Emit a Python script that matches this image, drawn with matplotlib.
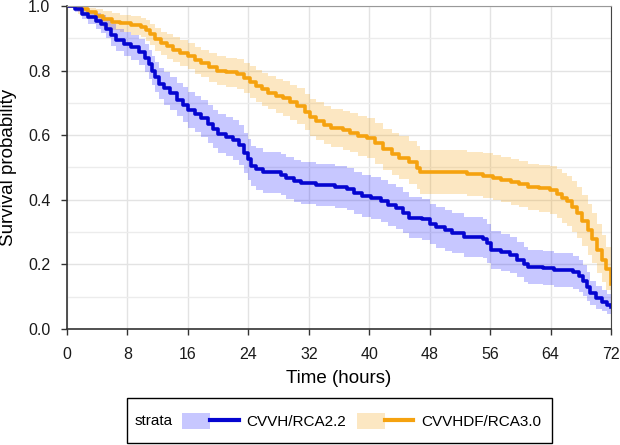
import matplotlib.pyplot as plt
from matplotlib.lines import Line2D
from matplotlib.patches import Patch, Rectangle
from matplotlib.legend_handler import HandlerTuple
from matplotlib.ticker import MultipleLocator

plt.rcParams['font.family'] = ['Liberation Sans', 'DejaVu Sans']

# Kaplan-Meier estimates (time in hours)
cvvh_time = [0, 1, 2, 2.8, 3.8, 4.5, 5.2, 5.8, 6.5, 7.5, 8.5, 9.5, 10.3, 10.8,
             11.2, 11.6, 12.2, 12.8, 13.6, 14.5, 15.3, 16.0, 17.0, 17.8, 18.6,
             19.3, 20.0, 21.0, 22.0, 22.8, 23.4, 23.9, 24.4, 25.0, 26.0, 28.3,
             29.0, 30.0, 31.0, 33.0, 35.5, 37.0, 38.0, 39.0, 40.3, 41.5, 42.5,
             43.5, 44.5, 45.2, 47.0, 48.0, 48.8, 50.0, 51.0, 52.5, 55.0, 55.6,
             56.1, 57.5, 58.6, 59.5, 60.5, 61.0, 63.0, 64.5, 67.0, 67.8, 68.3,
             68.8, 69.2, 70.0, 70.8, 71.5, 72.0]
cvvh_surv = [1.0, 0.99, 0.975, 0.965, 0.955, 0.945, 0.93, 0.91, 0.895, 0.882,
             0.872, 0.858, 0.84, 0.82, 0.80, 0.78, 0.76, 0.745, 0.73, 0.71,
             0.695, 0.678, 0.665, 0.652, 0.635, 0.618, 0.605, 0.595, 0.585,
             0.57, 0.545, 0.525, 0.505, 0.495, 0.485, 0.478, 0.468, 0.458,
             0.452, 0.446, 0.44, 0.432, 0.42, 0.412, 0.405, 0.395, 0.385,
             0.375, 0.36, 0.345, 0.34, 0.325, 0.315, 0.305, 0.298, 0.285,
             0.28, 0.265, 0.245, 0.238, 0.228, 0.215, 0.2, 0.192, 0.189,
             0.182, 0.176, 0.165, 0.15, 0.13, 0.11, 0.095, 0.085, 0.075, 0.068]
cvvh_lower = [1.0, 0.98, 0.96, 0.945, 0.93, 0.917, 0.90, 0.877, 0.86, 0.845,
              0.833, 0.817, 0.797, 0.775, 0.754, 0.733, 0.712, 0.695, 0.679,
              0.658, 0.642, 0.623, 0.609, 0.595, 0.577, 0.559, 0.545, 0.535,
              0.524, 0.508, 0.483, 0.462, 0.442, 0.431, 0.421, 0.414, 0.403,
              0.393, 0.387, 0.381, 0.375, 0.367, 0.355, 0.347, 0.34, 0.33,
              0.32, 0.31, 0.296, 0.281, 0.276, 0.262, 0.252, 0.243, 0.236,
              0.224, 0.219, 0.205, 0.187, 0.181, 0.172, 0.16, 0.146, 0.139,
              0.136, 0.13, 0.125, 0.115, 0.102, 0.088, 0.075, 0.063, 0.055,
              0.047, 0.042]
cvvh_upper = [1.0, 1.0, 0.99, 0.985, 0.978, 0.972, 0.96, 0.943, 0.93, 0.919,
              0.911, 0.899, 0.883, 0.865, 0.846, 0.827, 0.808, 0.795, 0.781,
              0.762, 0.748, 0.733, 0.721, 0.709, 0.693, 0.677, 0.665, 0.655,
              0.646, 0.632, 0.607, 0.588, 0.568, 0.559, 0.549, 0.542, 0.533,
              0.523, 0.517, 0.511, 0.505, 0.497, 0.485, 0.477, 0.47, 0.46,
              0.45, 0.44, 0.424, 0.409, 0.404, 0.388, 0.378, 0.367, 0.36,
              0.346, 0.341, 0.325, 0.303, 0.295, 0.284, 0.27, 0.254, 0.245,
              0.242, 0.234, 0.227, 0.215, 0.198, 0.175, 0.15, 0.133, 0.12,
              0.108, 0.10]

cvvhdf_time = [0, 1.5, 2.8, 3.8, 4.8, 6.0, 7.0, 8.5, 9.8, 10.4, 11.0, 11.7,
               12.4, 13.2, 14.0, 15.0, 16.0, 17.0, 17.8, 18.8, 19.8, 21.0,
               22.5, 23.4, 24.2, 25.0, 25.8, 26.6, 27.6, 28.6, 29.5, 30.5,
               31.5, 32.2, 33.0, 34.0, 35.0, 36.5, 37.5, 38.5, 39.7, 40.8,
               41.8, 43.0, 44.0, 45.2, 46.3, 46.7, 53.0, 55.0, 56.4, 57.5,
               58.8, 59.8, 61.0, 62.5, 63.9, 64.8, 65.5, 66.2, 66.9, 67.5,
               68.2, 68.9, 69.5, 70.2, 70.8, 71.4, 72.0]
cvvhdf_surv = [1.0, 0.99, 0.98, 0.97, 0.96, 0.952, 0.946, 0.94, 0.935, 0.925,
               0.912, 0.898, 0.885, 0.875, 0.865, 0.855, 0.845, 0.832, 0.822,
               0.81, 0.8, 0.795, 0.79, 0.778, 0.765, 0.752, 0.742, 0.732,
               0.722, 0.714, 0.702, 0.69, 0.672, 0.656, 0.645, 0.632, 0.622,
               0.615, 0.608, 0.598, 0.59, 0.575, 0.556, 0.542, 0.53, 0.516,
               0.5, 0.486, 0.48, 0.475, 0.468, 0.462, 0.455, 0.448, 0.44,
               0.435, 0.43, 0.418, 0.405, 0.395, 0.378, 0.36, 0.335, 0.305,
               0.28, 0.245, 0.215, 0.185, 0.14]
cvvhdf_lower = [1.0, 0.975, 0.96, 0.948, 0.935, 0.925, 0.918, 0.91, 0.905,
                0.893, 0.878, 0.862, 0.848, 0.837, 0.826, 0.815, 0.804, 0.79,
                0.779, 0.766, 0.755, 0.749, 0.744, 0.73, 0.716, 0.702, 0.691,
                0.68, 0.669, 0.66, 0.647, 0.634, 0.615, 0.598, 0.586, 0.572,
                0.562, 0.554, 0.547, 0.536, 0.528, 0.512, 0.492, 0.477, 0.464,
                0.449, 0.432, 0.418, 0.412, 0.406, 0.398, 0.392, 0.384, 0.377,
                0.368, 0.362, 0.356, 0.343, 0.329, 0.318, 0.3, 0.282, 0.258,
                0.228, 0.205, 0.172, 0.145, 0.12, 0.085]
cvvhdf_upper = [1.0, 1.0, 0.995, 0.99, 0.983, 0.977, 0.972, 0.968, 0.964,
                0.956, 0.945, 0.933, 0.921, 0.912, 0.903, 0.894, 0.885, 0.873,
                0.864, 0.853, 0.844, 0.84, 0.835, 0.825, 0.813, 0.801, 0.792,
                0.783, 0.774, 0.767, 0.756, 0.745, 0.728, 0.713, 0.703, 0.691,
                0.682, 0.675, 0.669, 0.659, 0.652, 0.638, 0.62, 0.607, 0.596,
                0.583, 0.568, 0.554, 0.548, 0.544, 0.538, 0.532, 0.526, 0.519,
                0.512, 0.508, 0.504, 0.494, 0.482, 0.473, 0.457, 0.44, 0.415,
                0.386, 0.36, 0.325, 0.29, 0.255, 0.2]

strata = ['CVVH/RCA2.2', 'CVVHDF/RCA3.0']
blue = '#0505d0'
orange = '#f5a20f'

fig = plt.figure(figsize=(6.2, 4.45), dpi=100)
ax = fig.add_axes([67 / 620, 1 - 329 / 445, 544 / 620, 323 / 445])

# confidence bands
ax.fill_between(cvvhdf_time, cvvhdf_lower, cvvhdf_upper, step='post',
                color=orange, alpha=0.25, linewidth=0)
ax.fill_between(cvvh_time, cvvh_lower, cvvh_upper, step='post',
                color='#0000ff', alpha=0.22, linewidth=0)

# survival curves
ax.step(cvvhdf_time, cvvhdf_surv, where='post', color=orange, lw=2.6)
ax.step(cvvh_time, cvvh_surv, where='post', color=blue, lw=2.6)

ax.set_xlim(0, 72)
ax.set_ylim(0, 1)
ax.xaxis.set_major_locator(MultipleLocator(8))
ax.yaxis.set_major_locator(MultipleLocator(0.2))
ax.yaxis.set_minor_locator(MultipleLocator(0.1))
ax.yaxis.set_major_formatter(lambda v, p: f'{v:.1f}')
ax.grid(True, which='major', color='#e3e3e3', lw=1)
ax.grid(True, which='minor', axis='y', color='#ececec', lw=1)
ax.set_axisbelow(True)
ax.tick_params(axis='y', which='minor', length=0)
ax.tick_params(which='major', direction='out', length=4, width=1,
               color='#333333', labelsize=11.5, labelcolor='#1a1a1a')
ax.tick_params(axis='y', pad=8)
ax.tick_params(axis='x', pad=9)

for side in ['left', 'bottom']:
    ax.spines[side].set_color('#333333')
    ax.spines[side].set_linewidth(1.2)
ax.spines['right'].set_color('#444444')
ax.spines['top'].set_color('#999999')

ax.set_xlabel('Time (hours)', fontsize=13.5, labelpad=6)
ax.set_ylabel('Survival probability', fontsize=13.5, labelpad=8)

# legend: "strata" label, then one entry per group, inside a single frame
handles = [
    (Patch(facecolor='#0000ff', alpha=0.22, linewidth=0), Line2D([], [], color=blue, lw=3)),
    (Patch(facecolor=orange, alpha=0.25, linewidth=0), Line2D([], [], color=orange, lw=3)),
]
fig.legend(handles, strata, loc='center left', ncol=2, frameon=False,
           bbox_to_anchor=(182 / 620, 1 - 421 / 445), fontsize=11,
           handlelength=3.7, handleheight=1.2, handletextpad=0.5,
           columnspacing=0.7, borderpad=0, borderaxespad=0,
           handler_map={tuple: HandlerTuple(ndivide=None, pad=0)})
fig.text(135 / 620, 1 - 421 / 445, 'strata', fontsize=11, va='center', ha='left')
fig.add_artist(Rectangle((127 / 620, 2 / 445), 425 / 620, 45 / 445,
                         transform=fig.transFigure, fill=False,
                         edgecolor='black', lw=1))

fig.savefig('out.png', dpi=100)
